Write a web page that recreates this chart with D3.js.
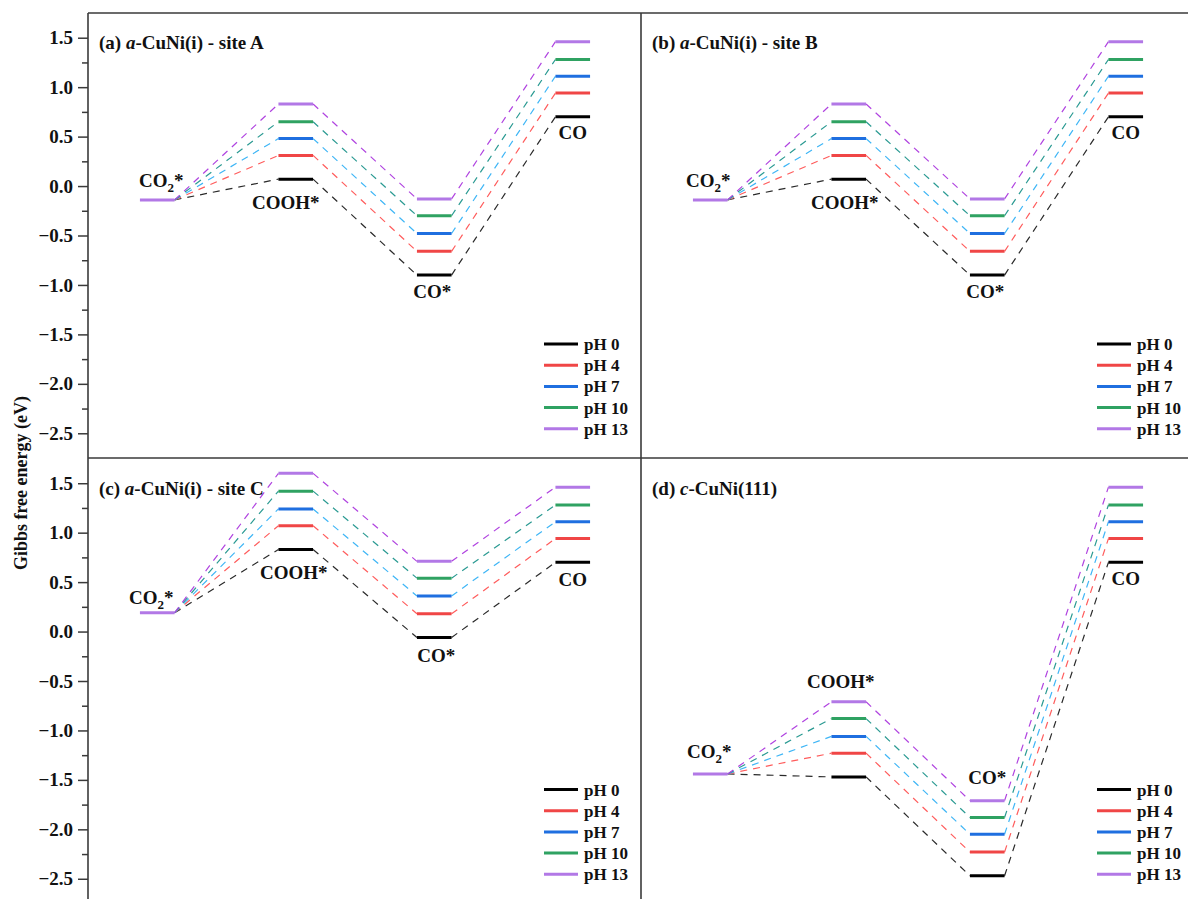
<!DOCTYPE html>
<html>
<head>
<meta charset="utf-8">
<script src="https://cdn.jsdelivr.net/npm/d3@7"></script>
<style>
  html, body { margin: 0; padding: 0; background: #fff; }
  svg { display: block; }
  text { font-family: "Liberation Serif", "Times New Roman", serif; font-weight: bold; fill: #111; }
</style>
</head>
<body>
<svg id="chart" width="1188" height="899"></svg>
<script>
// Reaction steps and pH series
const steps = ["CO2*", "COOH*", "CO*", "CO"];
const phLabels = ["pH 0", "pH 4", "pH 7", "pH 10", "pH 13"];
const yTicks = [-2.5, -2.0, -1.5, -1.0, -0.5, 0.0, 0.5, 1.0, 1.5];
const yMinorTicks = [-2.25, -1.75, -1.25, -0.75, -0.25, 0.25, 0.75, 1.25, 1.75];

// Free energies (eV): CO2* is pH independent, the other steps have one value per pH
const siteA_CO2 = -0.14;
const siteA_COOH = [0.07, 0.31, 0.48, 0.65, 0.83];
const siteA_COstar = [-0.90, -0.66, -0.48, -0.30, -0.13];
const siteA_CO = [0.70, 0.94, 1.11, 1.28, 1.46];

const siteB_CO2 = -0.14;
const siteB_COOH = [0.07, 0.31, 0.48, 0.65, 0.83];
const siteB_COstar = [-0.90, -0.66, -0.48, -0.30, -0.13];
const siteB_CO = [0.70, 0.94, 1.11, 1.28, 1.46];

const siteC_CO2 = 0.19;
const siteC_COOH = [0.83, 1.07, 1.24, 1.42, 1.60];
const siteC_COstar = [-0.06, 0.18, 0.36, 0.54, 0.71];
const siteC_CO = [0.70, 0.94, 1.11, 1.28, 1.46];

const c111_CO2 = -1.44;
const c111_COOH = [-1.47, -1.23, -1.06, -0.88, -0.71];
const c111_COstar = [-2.47, -2.23, -2.05, -1.88, -1.71];
const c111_CO = [0.70, 0.94, 1.11, 1.28, 1.46];

// Styling
const levelColors = ["#000000", "#f04646", "#1f6fe0", "#2fa262", "#b278e6"];
const dashColors  = ["#2a2a2a", "#ff5c5c", "#3fb6f6", "#2a9a92", "#b043e0"];
const frameColor = "#3a3a3a";

const svg = d3.select("#chart");
const W = 554, H = 445;

const panels = [
  { key: "a", pre: "(a) ", it: "a", post: "-CuNi(i) - site A", x0: 88, y0: 13, axis: true,
    co2: siteA_CO2, cooh: siteA_COOH, costar: siteA_COstar, co: siteA_CO,
    lab: [{pos: "above", dx: 4, dy: -13}, {pos: "below", dx: -10, dy: 30}, {pos: "below", dx: -2, dy: 23}, {pos: "below", dx: 0, dy: 22}] },
  { key: "b", pre: "(b) ", it: "a", post: "-CuNi(i) - site B", x0: 641, y0: 13, axis: false,
    co2: siteB_CO2, cooh: siteB_COOH, costar: siteB_COstar, co: siteB_CO,
    lab: [{pos: "above", dx: -2, dy: -13}, {pos: "below", dx: -4, dy: 30}, {pos: "below", dx: -2, dy: 23}, {pos: "below", dx: 0, dy: 22}] },
  { key: "c", pre: "(c) ", it: "a", post: "-CuNi(i) - site C", x0: 88, y0: 458.5, axis: true,
    co2: siteC_CO2, cooh: siteC_COOH, costar: siteC_COstar, co: siteC_CO,
    lab: [{pos: "above", dx: -6, dy: -9}, {pos: "below", dx: -2, dy: 30}, {pos: "below", dx: 2, dy: 25}, {pos: "below", dx: 0, dy: 24}] },
  { key: "d", pre: "(d) ", it: "c", post: "-CuNi(111)", x0: 641, y0: 458.5, axis: false,
    co2: c111_CO2, cooh: c111_COOH, costar: c111_COstar, co: c111_CO,
    lab: [{pos: "above", dx: -1, dy: -16}, {pos: "above", dx: -8, dy: -14}, {pos: "above", dx: 0, dy: -17}, {pos: "below", dx: 0, dy: 23}] }
];

panels.forEach(p => {
  const g = svg.append("g").attr("class", "panel-" + p.key);
  const x = d3.scaleLinear().domain([0, 4]).range([p.x0, p.x0 + W]);
  const y = d3.scaleLinear().domain([-2.75, 1.75]).range([p.y0 + H, p.y0]);

  // energy of step i for pH series k
  const energy = (i, k) => {
    if (i === 0) return p.co2;
    return [null, p.cooh, p.costar, p.co][i][k];
  };
  const xs = i => x(i + 0.375);
  const xe = i => x(i + 0.625);

  // dashed connectors between consecutive levels
  phLabels.forEach((ph, k) => {
    for (let i = 0; i < steps.length - 1; i++) {
      g.append("line")
        .attr("x1", xe(i)).attr("y1", y(energy(i, k)))
        .attr("x2", xs(i + 1)).attr("y2", y(energy(i + 1, k)))
        .attr("stroke", dashColors[k])
        .attr("stroke-width", 1.2)
        .attr("stroke-dasharray", "7,6");
    }
  });

  // energy levels
  phLabels.forEach((ph, k) => {
    for (let i = 0; i < steps.length; i++) {
      if (i === 0 && k < phLabels.length - 1) continue; // single CO2* level
      g.append("line")
        .attr("x1", xs(i)).attr("x2", xe(i))
        .attr("y1", y(energy(i, k))).attr("y2", y(energy(i, k)))
        .attr("stroke", i === 0 ? levelColors[4] : levelColors[k])
        .attr("stroke-width", 3);
    }
  });

  // step labels
  steps.forEach((s, i) => {
    const L = p.lab[i];
    const refK = (L.pos === "above") ? phLabels.length - 1 : 0;
    const yy = y(energy(i, refK)) + L.dy;
    const t = g.append("text")
      .attr("x", (xs(i) + xe(i)) / 2 + L.dx)
      .attr("y", yy)
      .attr("text-anchor", "middle")
      .attr("font-size", 19);
    if (s === "CO2*") {
      t.append("tspan").text("CO");
      t.append("tspan").attr("font-size", 13).attr("dy", 5).text("2");
      t.append("tspan").attr("dy", -5).text("*");
    } else {
      t.text(s);
    }
  });

  // panel title
  const title = g.append("text")
    .attr("x", p.x0 + 11).attr("y", p.y0 + 36)
    .attr("font-size", 19);
  title.append("tspan").text(p.pre);
  title.append("tspan").attr("font-style", "italic").text(p.it);
  title.append("tspan").text(p.post);

  // legend
  const lg = g.append("g").attr("transform", `translate(${p.x0 + 456},${p.y0 + 331})`);
  phLabels.forEach((ph, k) => {
    const row = lg.append("g").attr("transform", `translate(0,${k * 21.2})`);
    row.append("line").attr("x1", 0).attr("x2", 34).attr("y1", 0).attr("y2", 0)
      .attr("stroke", levelColors[k]).attr("stroke-width", 3);
    row.append("text").attr("x", 40).attr("y", 6).attr("font-size", 17).text(ph);
  });

  // left axis with major and minor ticks
  if (p.axis) {
    const major = d3.axisLeft(y).tickValues(yTicks).tickSize(10).tickSizeOuter(0)
      .tickPadding(5).tickFormat(d3.format(".1f"));
    const ga = g.append("g").attr("transform", `translate(${p.x0},0)`).call(major);
    ga.select(".domain").remove();
    ga.selectAll(".tick line").attr("stroke", frameColor).attr("stroke-width", 1.5);
    ga.selectAll(".tick text")
      .attr("font-family", "Liberation Serif, Times New Roman, serif")
      .attr("font-weight", "bold").attr("font-size", 19).attr("fill", "#111");
    const minor = d3.axisLeft(y).tickValues(yMinorTicks.filter(v => v < 1.74)).tickSize(6)
      .tickSizeOuter(0).tickFormat("");
    const gm = g.append("g").attr("transform", `translate(${p.x0},0)`).call(minor);
    gm.select(".domain").remove();
    gm.selectAll(".tick line").attr("stroke", frameColor).attr("stroke-width", 1.5);
  }
});

// frame lines
const frame = svg.append("g").attr("stroke", frameColor).attr("stroke-width", 1.6).attr("fill", "none");
frame.append("line").attr("x1", 88).attr("x2", 1188).attr("y1", 13).attr("y2", 13);
frame.append("line").attr("x1", 88).attr("x2", 1188).attr("y1", 458).attr("y2", 458);
frame.append("line").attr("x1", 88).attr("x2", 88).attr("y1", 13).attr("y2", 899);
frame.append("line").attr("x1", 641).attr("x2", 641).attr("y1", 13).attr("y2", 899);

// shared y-axis title
svg.append("text")
  .attr("transform", "translate(27,483) rotate(-90)")
  .attr("text-anchor", "middle")
  .attr("font-size", 18)
  .text("Gibbs free energy (eV)");
</script>
</body>
</html>
